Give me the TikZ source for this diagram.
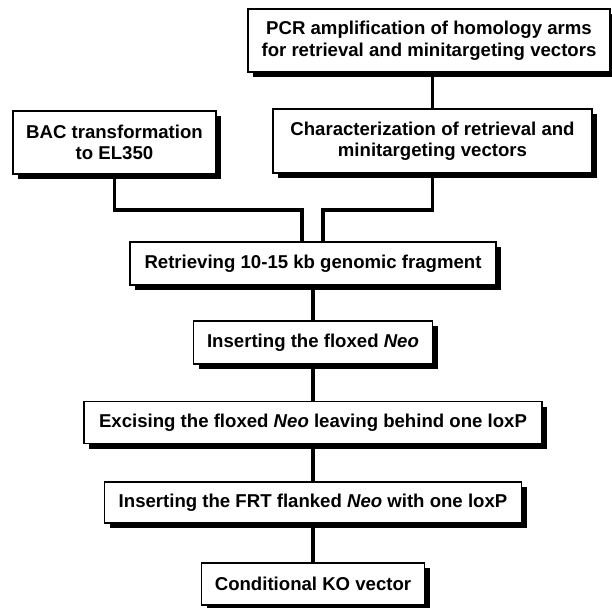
\documentclass[tikz,border=0pt]{standalone}
\usepackage{fontspec}
\setmainfont{Liberation Sans}
\usepackage{tikz}
\usetikzlibrary{shadows}

\begin{document}
\begin{tikzpicture}[x=1pt,y=-1pt,
    box/.style={draw,line width=1.4pt,fill=white,align=center,inner sep=0pt,
      font=\fontsize{18.6}{21.5}\selectfont\bfseries,
      drop shadow={shadow xshift=5pt,shadow yshift=-5pt,fill=black,opacity=1}},
    conn/.style={line width=3.5pt}]
    \useasboundingbox (0,0) rectangle (612,607);

    \node[box,minimum width=362pt,minimum height=63pt](pcr) at (429,40.5)
      {PCR amplification of homology arms\\for retrieval and minitargeting vectors};
    \node[box,minimum width=203pt,minimum height=63pt](bac) at (114.5,142.5)
      {BAC transformation\\to EL350};
    \node[box,minimum width=319pt,minimum height=64pt](char) at (432.5,141)
      {Characterization of retrieval and\\minitargeting vectors};
    \node[box,minimum width=366pt,minimum height=43pt](ret) at (313,263.5)
      {Retrieving 10-15 kb genomic fragment};
    \node[box,minimum width=239pt,minimum height=43pt](ins) at (313,342.5)
      {Inserting the floxed \textit{Neo}};
    \node[box,minimum width=458pt,minimum height=42pt](exc) at (313,422.5)
      {Excising the floxed \textit{Neo} leaving behind one loxP};
    \node[box,minimum width=417pt,minimum height=41pt](frt) at (313,502.5)
      {Inserting the FRT flanked \textit{Neo} with one loxP};
    \node[box,minimum width=223pt,minimum height=42pt](ko) at (313,584)
      {Conditional KO vector};

    \coordinate (jl) at (302,210);
    \coordinate (jr) at (323,210);

    \draw[conn] (char.north) -- (char.north |- pcr.south);
    \draw[conn] (bac.south) |- (jl) -- (jl |- ret.north);
    \draw[conn] (char.south) |- (jr) -- (jr |- ret.north);
    \draw[conn] (ret.south) -- (ins.north);
    \draw[conn] (ins.south) -- (exc.north);
    \draw[conn] (exc.south) -- (frt.north);
    \draw[conn] (frt.south) -- (ko.north);
\end{tikzpicture}
\end{document}
